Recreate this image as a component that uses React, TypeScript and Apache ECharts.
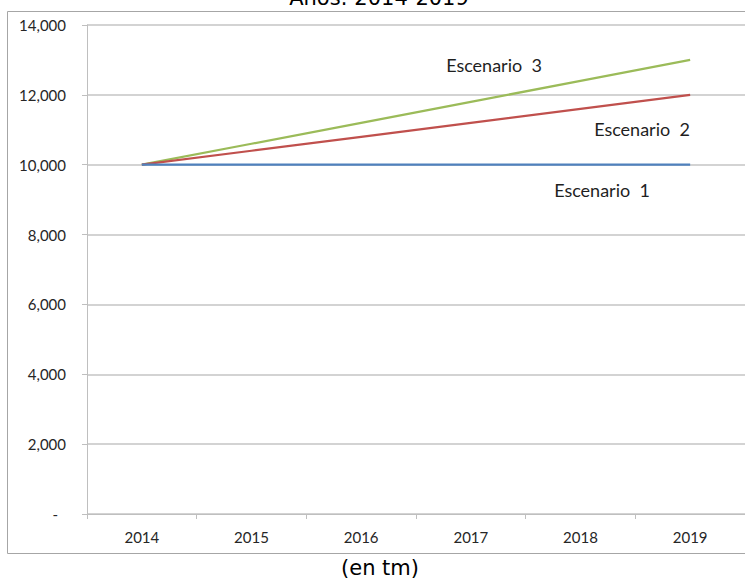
import React, { useEffect, useRef } from "react";
import * as echarts from "echarts";

// Proyección en tm por escenario, 2014-2019
const years = ["2014", "2015", "2016", "2017", "2018", "2019"];
const escenario1 = [10000, 10000, 10000, 10000, 10000, 10000];
const escenario2 = [10000, 10400, 10800, 11200, 11600, 12000];
const escenario3 = [10000, 10600, 11200, 11800, 12400, 13000];

const seriesNames = ["Escenario 1", "Escenario 2", "Escenario 3"];
const seriesColors = ["#4F81BD", "#C0504D", "#9BBB59"];

const titleText = "Años: 2014-2019";
const unitText = "(en tm)";

const W = 745;
const H = 580;

export default function App() {
  const ref = useRef<HTMLDivElement>(null);

  useEffect(() => {
    if (!ref.current) return;
    const chart = echarts.init(ref.current, null, { renderer: "svg" });
    const labelFont = "Lato, 'Open Sans', sans-serif";
    const labelStyle = { fontFamily: labelFont, fontSize: 18, fill: "#1f1f1f" };

    chart.setOption({
      animation: false,
      backgroundColor: "#ffffff",
      grid: { left: 87, right: 0, top: 25, bottom: 66, containLabel: false },
      xAxis: {
        type: "category",
        data: years,
        boundaryGap: true,
        axisLine: { show: true, lineStyle: { color: "#bfbfbf", width: 1 } },
        axisTick: { show: true, length: 5, lineStyle: { color: "#bfbfbf" } },
        axisLabel: {
          margin: 15,
          fontFamily: labelFont,
          fontSize: 15,
          color: "#262626",
        },
        splitLine: { show: false },
      },
      yAxis: {
        type: "value",
        min: 0,
        max: 14000,
        interval: 2000,
        axisLine: { show: true, lineStyle: { color: "#bfbfbf", width: 1 } },
        axisTick: { show: true, length: 5, lineStyle: { color: "#bfbfbf" } },
        axisLabel: {
          margin: 21,
          fontFamily: labelFont,
          fontSize: 15,
          color: "#262626",
          formatter: (v: number) =>
            v === 0 ? "{dash|-}" : v.toLocaleString("en-US"),
          rich: {
            dash: {
              fontFamily: labelFont,
              fontSize: 15,
              color: "#262626",
              padding: [0, 8, 0, 0],
            },
          },
        },
        splitLine: { show: true, lineStyle: { color: "#c4c4c4", width: 1.5 } },
      },
      series: [escenario1, escenario2, escenario3].map((data, i) => ({
        name: seriesNames[i],
        type: "line",
        data,
        symbol: "none",
        lineStyle: { color: seriesColors[i], width: 2.25 },
        itemStyle: { color: seriesColors[i] },
        z: 3 - i + 2,
      })),
      graphic: [
        {
          type: "rect",
          silent: true,
          z: -1,
          shape: { x: 7.5, y: 11.5, width: 760, height: 542 },
          style: { fill: "none", stroke: "#a6a6a6", lineWidth: 1 },
        },
        {
          type: "text",
          x: 379,
          y: -2,
          style: {
            text: titleText,
            fontFamily: "'DejaVu Sans', Verdana, sans-serif",
            fontSize: 21,
            fill: "#000000",
            align: "center",
            verticalAlign: "middle",
          },
        },
        {
          type: "text",
          x: 380,
          y: 568,
          style: {
            text: unitText,
            fontFamily: "'DejaVu Sans', Verdana, sans-serif",
            fontSize: 21,
            fill: "#000000",
            align: "center",
            verticalAlign: "middle",
          },
        },
        {
          type: "text",
          x: 494,
          y: 65,
          style: { ...labelStyle, text: "Escenario  3", align: "center", verticalAlign: "middle" },
        },
        {
          type: "text",
          x: 642,
          y: 129,
          style: { ...labelStyle, text: "Escenario  2", align: "center", verticalAlign: "middle" },
        },
        {
          type: "text",
          x: 602,
          y: 190,
          style: { ...labelStyle, text: "Escenario  1", align: "center", verticalAlign: "middle" },
        },
      ],
    });

    return () => chart.dispose();
  }, []);

  return (
    <div
      ref={ref}
      style={{ position: "fixed", left: 0, top: 0, width: W, height: H }}
    />
  );
}
